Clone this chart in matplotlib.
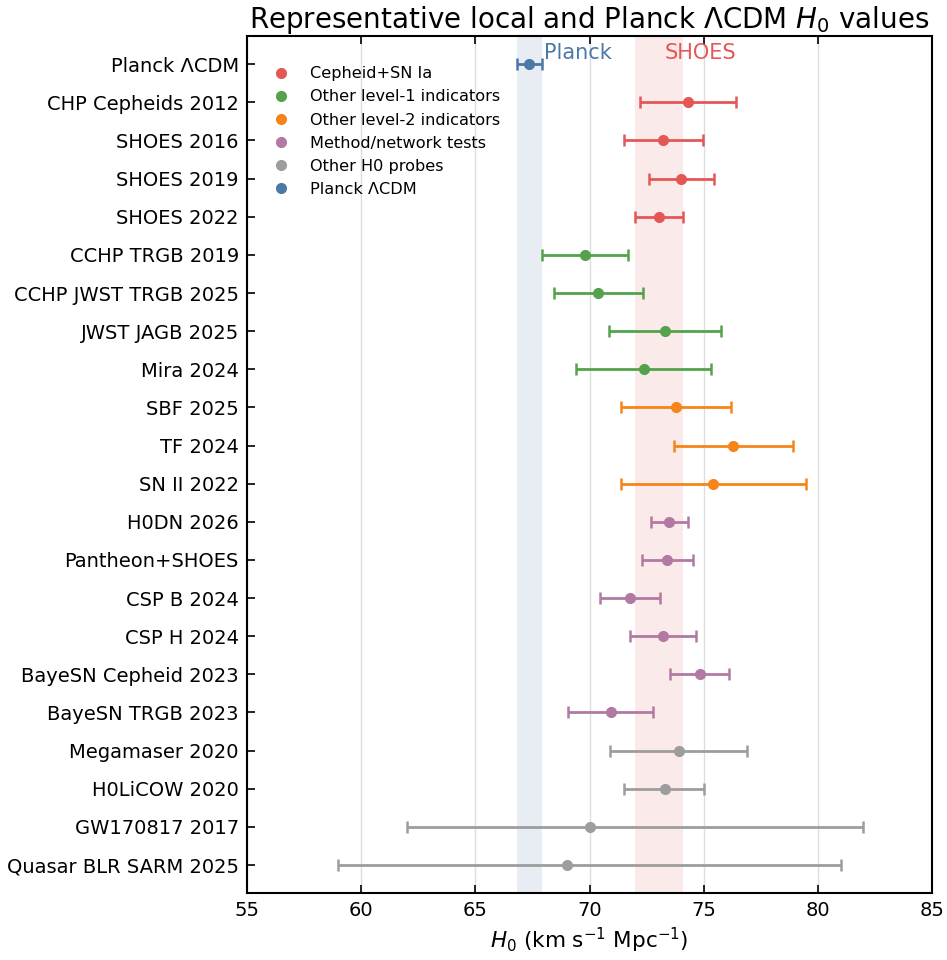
import matplotlib.pyplot as plt
import numpy as np

labels = ["Planck \u039bCDM", "CHP Cepheids 2012", "SHOES 2016", "SHOES 2019",
          "SHOES 2022", "CCHP TRGB 2019", "CCHP JWST TRGB 2025", "JWST JAGB 2025",
          "Mira 2024", "SBF 2025", "TF 2024", "SN II 2022", "H0DN 2026",
          "Pantheon+SHOES", "CSP B 2024", "CSP H 2024", "BayeSN Cepheid 2023",
          "BayeSN TRGB 2023", "Megamaser 2020", "H0LiCOW 2020", "GW170817 2017",
          "Quasar BLR SARM 2025"]
h0 = [67.36, 74.3, 73.24, 74.03, 73.04, 69.8, 70.39, 73.3, 72.37, 73.8, 76.3,
      75.4, 73.5, 73.4, 71.76, 73.22, 74.82, 70.92, 73.9, 73.3, 70.0, 69.0]
err_lo = [0.54, 2.1, 1.74, 1.42, 1.04, 1.9, 1.94, 2.45, 2.97, 2.4, 2.6,
          4.0, 0.82, 1.12, 1.32, 1.45, 1.3, 1.88, 3.0, 1.8, 8.0, 10.0]
err_hi = [0.54, 2.1, 1.74, 1.42, 1.04, 1.9, 1.94, 2.45, 2.97, 2.4, 2.6,
          4.1, 0.82, 1.12, 1.32, 1.45, 1.3, 1.88, 3.0, 1.7, 12.0, 12.0]
group = ["planck", "ceph", "ceph", "ceph", "ceph", "l1", "l1", "l1", "l1",
         "l2", "l2", "l2", "meth", "meth", "meth", "meth", "meth", "meth",
         "other", "other", "other", "other"]

groups = ["ceph", "l1", "l2", "meth", "other", "planck"]
group_names = ["Cepheid+SN Ia", "Other level-1 indicators", "Other level-2 indicators",
               "Method/network tests", "Other H0 probes", "Planck \u039bCDM"]
colors = {"ceph": "#e45756", "l1": "#54a24b", "l2": "#f58518",
          "meth": "#b279a2", "other": "#9d9d9d", "planck": "#4c78a8"}

planck_band = (66.82, 67.90)
shoes_band = (72.0, 74.08)

fig, ax = plt.subplots(figsize=(9.47, 9.6), dpi=100)
fig.subplots_adjust(left=0.261, right=0.984, top=0.9625, bottom=0.070)

ax.axvspan(*planck_band, color=colors["planck"], alpha=0.13, lw=0, zorder=0)
ax.axvspan(*shoes_band, color=colors["ceph"], alpha=0.12, lw=0, zorder=0)

y = np.arange(len(labels))
for i in range(len(labels)):
    c = colors[group[i]]
    ax.errorbar(h0[i], y[i], xerr=[[err_lo[i]], [err_hi[i]]], fmt='o', color=c,
                ms=7, elinewidth=2, capsize=4, capthick=1.8, zorder=3)

# legend handles
for g, name in zip(groups, group_names):
    ax.plot([], [], 'o', color=colors[g], ms=7, label=name)
ax.legend(loc='upper left', frameon=False, fontsize=11.6, handlelength=1.0,
          handletextpad=1.3, borderaxespad=0.0, bbox_to_anchor=(0.028, 0.972),
          labelspacing=0.5)

ax.text(68.0, -0.3, "Planck", color=colors["planck"], fontsize=15, ha='left', va='center')
ax.text(73.3, -0.3, "SHOES", color=colors["ceph"], fontsize=15, ha='left', va='center')

ax.set_yticks(y)
ax.set_yticklabels(labels, fontsize=14)
ax.set_ylim(21.73, -0.74)
ax.set_xlim(55, 85)
ax.set_xticks(np.arange(55, 86, 5))
ax.tick_params(axis='x', labelsize=14, direction='in', top=True, length=6, width=1.2, pad=6)
ax.tick_params(axis='y', direction='in', length=6, width=1.2, pad=6)
ax.grid(axis='x', color='#dddddd', lw=1, zorder=0)
ax.set_axisbelow(True)
for s in ax.spines.values():
    s.set_linewidth(1.5)

ax.set_xlabel(r"$H_0$ (km s$^{-1}$ Mpc$^{-1}$)", fontsize=15.5)
ax.set_title(r"Representative local and Planck $\Lambda$CDM $H_0$ values", fontsize=20, pad=6)

fig.savefig("out.png", dpi=100)
